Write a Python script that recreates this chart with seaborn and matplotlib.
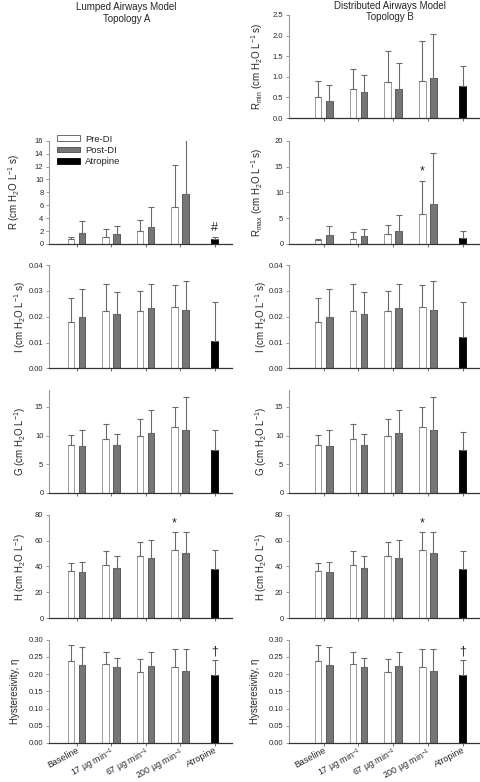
import matplotlib
matplotlib.use("Agg")
import matplotlib.pyplot as plt
from matplotlib.patches import Patch
from matplotlib.ticker import MultipleLocator, FormatStrFormatter
import pandas as pd
import seaborn as sns

sns.set_style("ticks")
plt.rcParams['font.family'] = ['Liberation Sans', 'DejaVu Sans']
plt.rcParams['mathtext.fontset'] = 'custom'
plt.rcParams['mathtext.rm'] = 'Liberation Sans'
plt.rcParams['mathtext.it'] = 'Liberation Sans:italic'
plt.rcParams['mathtext.default'] = 'regular'

doses = ["Baseline", "17", "67", "200", "Atropine"]
dose_labels = ["Baseline", "17 µg min$^{-1}$", "67 µg min$^{-1}$",
               "200 µg min$^{-1}$", "Atropine"]
conds = ["Pre-DI", "Post-DI"]

# means and SD (Baseline, 17, 67, 200)
r_pre = [0.75, 1.05, 1.95, 5.8]
r_pre_sd = [0.3, 1.35, 1.7, 6.45]
r_post = [1.7, 1.5, 2.6, 7.7]
r_post_sd = [1.8, 1.35, 3.1, 9.9]
r_atr_a, r_atr_a_sd = 0.8, 0.3
r_atr_b, r_atr_b_sd = 1.1, 1.35

rmin_pre = [0.51, 0.70, 0.87, 0.90]
rmin_pre_sd = [0.40, 0.50, 0.76, 0.97]
rmin_post = [0.42, 0.64, 0.70, 0.97]
rmin_post_sd = [0.38, 0.41, 0.63, 1.07]
rmin_atr, rmin_atr_sd = 0.77, 0.50

i_pre = [0.0181, 0.0221, 0.0221, 0.0237]
i_pre_sd = [0.0093, 0.0105, 0.0080, 0.0084]
i_post = [0.0197, 0.0210, 0.0235, 0.0225]
i_post_sd = [0.0112, 0.0086, 0.0090, 0.0115]
i_atr_a, i_atr_a_sd = 0.0104, 0.0154
i_atr_b, i_atr_b_sd = 0.0120, 0.0138

g_pre = [8.3, 9.35, 9.9, 11.45]
g_pre_sd = [1.8, 2.7, 3.05, 3.6]
g_post = [8.2, 8.45, 10.4, 10.95]
g_post_sd = [2.7, 1.9, 4.15, 5.85]
g_atr_a, g_atr_a_sd = 7.55, 3.35
g_atr_b, g_atr_b_sd = 7.5, 3.1

h_pre = [36.2, 40.9, 47.9, 52.6]
h_pre_sd = [6.2, 10.9, 10.7, 13.8]
h_post = [35.7, 38.8, 46.2, 50.2]
h_post_sd = [7.9, 9.0, 14.6, 16.8]
h_atr_a, h_atr_a_sd = 38.0, 14.4
h_atr_b, h_atr_b_sd = 37.8, 13.8

eta_pre = [0.238, 0.230, 0.207, 0.220]
eta_pre_sd = [0.046, 0.034, 0.037, 0.053]
eta_post = [0.227, 0.221, 0.224, 0.209]
eta_post_sd = [0.052, 0.027, 0.039, 0.065]
eta_atr, eta_atr_sd = 0.197, 0.044

unit_s = " (cm H$_2$O L$^{-1}$ s)"
unit = " (cm H$_2$O L$^{-1}$)"


def panel(pre, pre_sd, post, post_sd, atr, atr_sd, ymax, step, fmt, label, marks=()):
    return dict(pre=pre, pre_sd=pre_sd, post=post, post_sd=post_sd, atr=atr,
                atr_sd=atr_sd, ymax=ymax, step=step, fmt=fmt, label=label, marks=marks)


left_panels = [
    panel(r_pre, r_pre_sd, r_post, r_post_sd, r_atr_a, r_atr_a_sd, 16, 2, '%d',
          "R" + unit_s, [(2, 0, '#')]),
    panel(i_pre, i_pre_sd, i_post, i_post_sd, i_atr_a, i_atr_a_sd, 0.04, 0.01, '%.2f',
          "I" + unit_s),
    panel(g_pre, g_pre_sd, g_post, g_post_sd, g_atr_a, g_atr_a_sd, 18, 5, '%d',
          "G" + unit),
    panel(h_pre, h_pre_sd, h_post, h_post_sd, h_atr_a, h_atr_a_sd, 80, 20, '%d',
          "H" + unit, [(0, 3, '*')]),
    panel(eta_pre, eta_pre_sd, eta_post, eta_post_sd, eta_atr, eta_atr_sd, 0.30, 0.05, '%.2f',
          "Hysteresivity, η", [(2, 0, '†')]),
]
right_panels = [
    panel(rmin_pre, rmin_pre_sd, rmin_post, rmin_post_sd, rmin_atr, rmin_atr_sd, 2.5, 0.5, '%.1f',
          "R$_{min}$" + unit_s),
    panel(r_pre, r_pre_sd, r_post, r_post_sd, r_atr_b, r_atr_b_sd, 20, 5, '%d',
          "R$_{max}$" + unit_s, [(0, 3, '*')]),
    panel(i_pre, i_pre_sd, i_post, i_post_sd, i_atr_b, i_atr_b_sd, 0.04, 0.01, '%.2f',
          "I" + unit_s),
    panel(g_pre, g_pre_sd, g_post, g_post_sd, g_atr_b, g_atr_b_sd, 18, 5, '%d',
          "G" + unit),
    panel(h_pre, h_pre_sd, h_post, h_post_sd, h_atr_b, h_atr_b_sd, 80, 20, '%d',
          "H" + unit, [(0, 3, '*')]),
    panel(eta_pre, eta_pre_sd, eta_post, eta_post_sd, eta_atr, eta_atr_sd, 0.30, 0.05, '%.2f',
          "Hysteresivity, η", [(2, 0, '†')]),
]

row_bottoms = [0.849, 0.688, 0.529, 0.3696, 0.2097, 0.0499]
row_h = 0.132


def draw(ax, p, xmin, label_x, bottom_row):
    df = pd.DataFrame({
        "dose": doses[:4] * 2,
        "cond": [conds[0]] * 4 + [conds[1]] * 4,
        "val": p["pre"] + p["post"],
    })
    sns.barplot(data=df, x="dose", y="val", hue="cond", order=doses, hue_order=conds,
                palette=["white", "#767676"], saturation=1, width=0.64, gap=0.4,
                errorbar=None, legend=False, linewidth=0.6, ax=ax)
    sns.barplot(x=["Atropine"], y=[p["atr"]], order=doses, color="black", saturation=1,
                width=0.19, errorbar=None, linewidth=0.6, ax=ax)
    bars = list(ax.containers)
    for cont, ec in zip(bars, ["#8a8a8a", "#4a4a4a", "black"]):
        for b in cont:
            b.set_edgecolor(ec)
    for cont, sds in zip(bars, [p["pre_sd"], p["post_sd"], [p["atr_sd"]]]):
        for b, sd in zip(cont, sds):
            x = b.get_x() + b.get_width() / 2
            ax.errorbar(x, b.get_height(), yerr=[[0], [sd]], fmt='none', ecolor='#6a6a6a',
                        elinewidth=0.8, capsize=2.5, capthick=0.8, zorder=1)
    for ci, bi, sym in p["marks"]:
        b = bars[ci][bi]
        sd = [p["pre_sd"], p["post_sd"], [p["atr_sd"]]][ci][bi]
        ax.annotate(sym, xy=(b.get_x() + b.get_width() / 2, b.get_height() + sd),
                    xytext=(0, 6.5), textcoords='offset points', ha='center', va='center',
                    fontsize=9, annotation_clip=False)

    ax.set_xlim(xmin, 4.5)
    ax.set_ylim(0, p["ymax"])
    ax.yaxis.set_major_locator(MultipleLocator(p["step"]))
    ax.yaxis.set_major_formatter(FormatStrFormatter(p["fmt"]))
    ax.set_xlabel("")
    ax.set_ylabel(p["label"], fontsize=7, va='center', ha='center')
    ax.yaxis.set_label_coords(label_x, 0.5)
    sns.despine(ax=ax)
    ax.spines['left'].set_color('#9a9a9a')
    ax.spines['left'].set_linewidth(0.8)
    ax.spines['bottom'].set_color('#333333')
    ax.spines['bottom'].set_linewidth(0.9)
    ax.tick_params(axis='y', labelsize=5.5, length=2.5, width=0.6, pad=1.5, color='#888888')
    ax.tick_params(axis='x', length=2, width=0.6, pad=0, color='#555555', labelsize=6.4)
    ax.set_xticks(range(len(doses)))
    if bottom_row:
        ax.set_xticklabels(dose_labels, rotation=28, ha='right', rotation_mode='anchor')
    else:
        ax.tick_params(axis='x', labelbottom=False)


fig = plt.figure(figsize=(4.8, 7.82), dpi=100)

left_off = [-35, -29, -29, -29, -34]
for k, p in enumerate(left_panels):
    ax = fig.add_axes([0.102, row_bottoms[k + 1], 0.381, row_h])
    draw(ax, p, -0.8, left_off[k] / 183, k == len(left_panels) - 1)
    if k == 0:
        handles = [Patch(facecolor='white', edgecolor='#555555', linewidth=0.6),
                   Patch(facecolor='#767676', edgecolor='#4a4a4a', linewidth=0.6),
                   Patch(facecolor='black', edgecolor='black', linewidth=0.6)]
        ax.legend(handles, ["Pre-DI", "Post-DI", "Atropine"], loc='upper left',
                  bbox_to_anchor=(0.044, 1.06), frameon=False, fontsize=6.8,
                  handlelength=2.45, handleheight=0.55, handletextpad=0.5,
                  labelspacing=0.25, borderpad=0, borderaxespad=0)

right_off = [-32, -32, -28, -28, -28, -34]
for k, p in enumerate(right_panels):
    ax = fig.add_axes([0.602, row_bottoms[k], 0.398, row_h])
    draw(ax, p, -1.0, right_off[k] / 191, k == len(right_panels) - 1)

fig.text(0.263, 0.997, "Lumped Airways Model\nTopology A", ha='center', va='top',
         fontsize=7, linespacing=1.15)
fig.text(0.8125, 0.999, "Distributed Airways Model\nTopology B", ha='center', va='top',
         fontsize=7, linespacing=1.15)

fig.savefig("out.png", dpi=100)
